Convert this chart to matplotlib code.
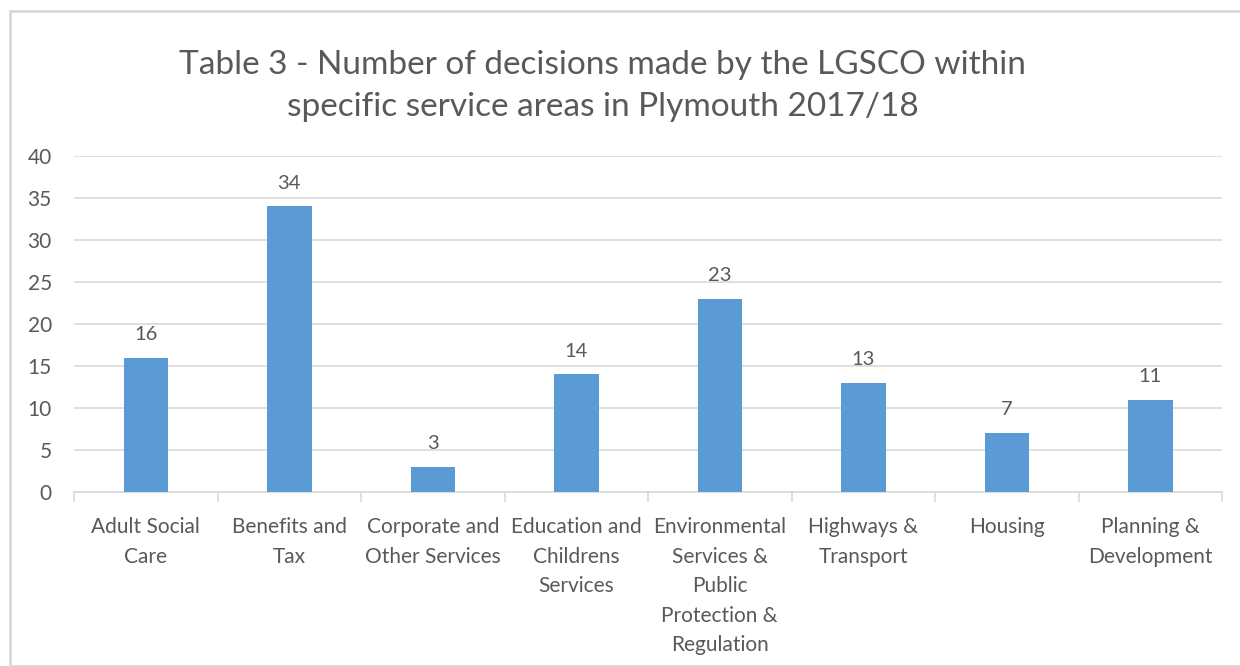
import matplotlib
matplotlib.use("Agg")
import matplotlib.pyplot as plt
from matplotlib.patches import Rectangle
import numpy as np

plt.rcParams["font.family"] = ["Lato", "DejaVu Sans"]

categories = ["Adult Social\nCare", "Benefits and\nTax", "Corporate and\nOther Services",
              "Education and\nChildrens\nServices",
              "Environmental\nServices &\nPublic\nProtection &\nRegulation",
              "Highways &\nTransport", "Housing", "Planning &\nDevelopment"]
values = [16, 34, 3, 14, 23, 13, 7, 11]

TXT = "#595959"
GRID = "#d9d9d9"
BAR = "#5b9bd5"

fig = plt.figure(figsize=(12.4, 6.66), dpi=100)
ax = fig.add_axes([0.0597, 0.2613, 0.9258, 0.5045])

x = np.arange(len(categories))
bars = ax.bar(x, values, width=0.31, color=BAR, zorder=3)
for b, v in zip(bars, values):
    ax.text(b.get_x() + b.get_width() / 2, v + 1.75, str(v), ha="center", va="bottom",
            fontsize=14.5, color=TXT)

ax.set_xlim(-0.5, len(categories) - 0.5)
ax.set_ylim(0, 40)
ax.set_yticks(range(0, 41, 5))
ax.grid(axis="y", color=GRID, linewidth=1.2, zorder=0)
for s in ["top", "right", "left"]:
    ax.spines[s].set_visible(False)
ax.spines["bottom"].set_color(GRID)
ax.spines["bottom"].set_linewidth(1.2)

ax.set_xticks(x)
ax.set_xticklabels(categories, fontsize=15, color=TXT, linespacing=1.6)
ax.tick_params(axis="x", which="major", length=0, pad=18)
ax.set_xticks(np.arange(-0.5, len(categories), 1), minor=True)
ax.tick_params(axis="x", which="minor", length=7, color=GRID, width=1.2)
ax.tick_params(axis="y", length=0, labelsize=15, labelcolor=TXT, pad=16)

fig.text(0.486, 0.871, "Table 3 - Number of decisions made by the LGSCO within\nspecific service areas in Plymouth 2017/18",
         ha="center", va="center", fontsize=24, color=TXT, linespacing=1.5)

fig.patches.append(Rectangle((10 / 1240, 0), 1.1, 1 - 11 / 666, transform=fig.transFigure,
                             fill=False, edgecolor=GRID, linewidth=2))

fig.savefig("out.png", dpi=100)
